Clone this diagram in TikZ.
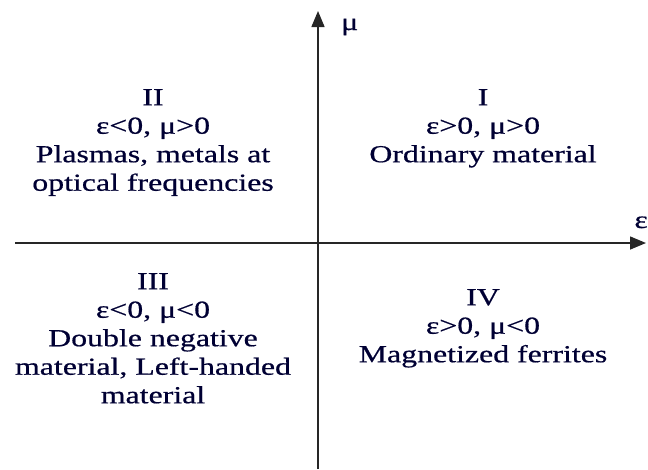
\documentclass[tikz,border=0pt]{standalone}
\usepackage{fontspec}
\setmainfont{Liberation Serif}[FakeStretch=1.3,FakeBold=0.6]
\usetikzlibrary{arrows.meta}
\tikzset{
  axis/.style={line width=1.5pt, draw=black!85, -{Triangle[length=16pt,width=13pt]}},
  quad/.style={align=center, text=black!80!blue, font=\fontsize{24.5}{28.5}\selectfont, inner sep=0pt},
  axlabel/.style={text=black!80!blue, font=\fontsize{24.5}{28.5}\selectfont, inner sep=0pt}
}
\begin{document}
\begin{tikzpicture}[x=1pt,y=-1pt]
\useasboundingbox (0,0) rectangle (648,469);
\coordinate (xs) at (15,243);
\coordinate (xe) at (646,243);
\coordinate (ys) at (318,469);
\coordinate (ye) at (318,11);
\draw[axis] (xs) -- (xe);
\draw[axis] (ys) -- (ye);
\node[axlabel, anchor=base west] (mu) at (341,30) {μ};
\node[axlabel, anchor=base east] (eps) at (648,228) {ε};
\node[quad, anchor=north] (q2) at (153,89) {II\\ε<0, μ>0\\Plasmas, metals at\\optical frequencies};
\node[quad, anchor=north] (q1) at (483,89) {I\\ε>0, μ>0\\Ordinary material};
\node[quad, anchor=north] (q3) at (153,273) {III\\ε<0, μ<0\\Double negative\\material, Left-handed\\material};
\node[quad, anchor=north] (q4) at (483,289) {IV\\ε>0, μ<0\\Magnetized ferrites};
\end{tikzpicture}
\end{document}
